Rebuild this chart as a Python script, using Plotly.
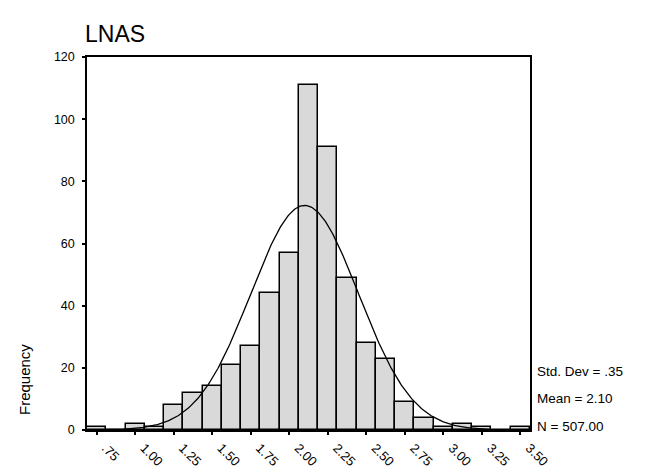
import numpy as np
import plotly.graph_objects as go

# Histogram of LNAS: bin centres (width .125) and frequencies
bin_centers = [0.75, 0.875, 1.0, 1.125, 1.25, 1.375, 1.5, 1.625, 1.75, 1.875,
               2.0, 2.125, 2.25, 2.375, 2.5, 2.625, 2.75, 2.875, 3.0, 3.125,
               3.25, 3.375, 3.5]
counts = [1, 0, 2, 1, 8, 12, 14, 21, 27, 44,
          57, 111, 91, 49, 28, 23, 9, 4, 1, 2,
          1, 0, 1]
bin_width = 0.125

x_tick_vals = [0.75, 1.0, 1.25, 1.5, 1.75, 2.0, 2.25, 2.5, 2.75, 3.0, 3.25, 3.5]
x_tick_text = [".75", "1.00", "1.25", "1.50", "1.75", "2.00", "2.25", "2.50",
               "2.75", "3.00", "3.25", "3.50"]
y_tick_vals = [0, 20, 40, 60, 80, 100, 120]

# Summary statistics shown beside the plot
std_dev = 0.35
mean = 2.10
n_obs = 507

x_lo = bin_centers[0] - bin_width / 2
x_hi = bin_centers[-1] + bin_width / 2

# Normal curve scaled to the histogram frequencies
xs = np.linspace(x_lo, x_hi, 400)
ys = n_obs * bin_width * np.exp(-0.5 * ((xs - mean) / std_dev) ** 2) / (std_dev * np.sqrt(2 * np.pi))

FONT = "Liberation Sans, Arial, sans-serif"

L, R, T, B = 87, 119, 57, 42
plot_h = 472 - T - B
plot_w = 649 - L - R

# slanted labels sit a little to the right of their ticks
label_shift = 9 / plot_w * (x_hi - x_lo)

fig = go.Figure()
fig.add_trace(go.Bar(
    x=bin_centers, y=counts, width=bin_width,
    marker=dict(color="#d9d9d9", line=dict(color="black", width=1.5)),
    hoverinfo="x+y",
))
fig.add_trace(go.Scatter(
    x=xs, y=ys, mode="lines",
    line=dict(color="black", width=1.3),
    hoverinfo="skip",
))
# carrier trace for the label axis
fig.add_trace(go.Scatter(
    x=x_tick_vals, y=[0] * len(x_tick_vals), xaxis="x2", mode="markers",
    marker=dict(opacity=0), hoverinfo="skip",
))


def py(pix_y):
    return (472 - B - pix_y) / plot_h


def px(pix_x):
    return (pix_x - L) / plot_w


stat_font = dict(size=13.5, family=FONT, color="black")
annotations = [
    dict(text="LNAS", x=px(83), y=py(34), xanchor="left", yanchor="middle",
         font=dict(size=23, family=FONT, color="black")),
    dict(text="Frequency", x=px(24), y=py(380), textangle=-90,
         xanchor="center", yanchor="middle",
         font=dict(size=15, family=FONT, color="black")),
    dict(text="Std. Dev = " + f"{std_dev:.2f}".lstrip("0"), x=px(535), y=py(371),
         xanchor="left", yanchor="middle", font=stat_font),
    dict(text=f"Mean = {mean:.2f}", x=px(535), y=py(398),
         xanchor="left", yanchor="middle", font=stat_font),
    dict(text=f"N = {n_obs:.2f}", x=px(535), y=py(426),
         xanchor="left", yanchor="middle", font=stat_font),
]
for a in annotations:
    a.update(xref="paper", yref="paper", showarrow=False)

fig.update_layout(
    width=649, height=472,
    margin=dict(l=L, r=R, t=T, b=B, pad=0),
    paper_bgcolor="white", plot_bgcolor="white",
    showlegend=False, bargap=0,
    font=dict(family=FONT, size=12, color="black"),
    annotations=annotations,
    xaxis=dict(
        range=[x_lo, x_hi], tickvals=x_tick_vals, showticklabels=False,
        ticks="outside", ticklen=3, tickwidth=2, tickcolor="black",
        showline=True, mirror=True, linecolor="black", linewidth=1.5,
        showgrid=False, zeroline=False, automargin=False,
    ),
    xaxis2=dict(
        range=[x_lo - label_shift, x_hi - label_shift], overlaying="x",
        anchor="y", side="bottom",
        tickvals=x_tick_vals, ticktext=x_tick_text, tickangle=45,
        ticks="", showline=False, showgrid=False, zeroline=False,
        ticklabelstandoff=7, tickfont=dict(size=13), automargin=False,
    ),
    yaxis=dict(
        range=[0, 120], tickvals=y_tick_vals,
        ticks="outside", ticklen=3, tickwidth=2, tickcolor="black",
        showline=True, mirror=True, linecolor="black", linewidth=1.5,
        showgrid=False, zeroline=False, tickfont=dict(size=12.5),
        ticklabelstandoff=5, automargin=False,
    ),
)

fig.write_html("out.html")
